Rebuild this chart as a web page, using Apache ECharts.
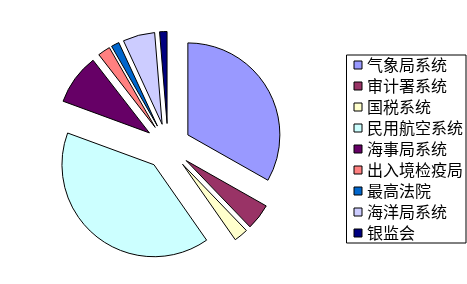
<!DOCTYPE html>
<html><head><meta charset="utf-8">
<style>html,body{margin:0;padding:0;background:#fff;}#c{width:467px;height:284px;}</style>
<script src="https://cdn.jsdelivr.net/npm/echarts@6/dist/echarts.min.js"></script>
</head><body><div id="c"></div>
<script>
var categories = ['气象局系统','审计署系统','国税系统','民用航空系统','海事局系统','出入境检疫局','最高法院','海洋局系统','银监会'];
var values = [33.2, 4.6, 2.5, 40.3, 8.9, 2.2, 1.4, 5.6, 1.3];
var colors = ['#9999FF','#993366','#FFFFCC','#CCFFFF','#660066','#FF8080','#0066CC','#CCCCFF','#000080'];

var chart = echarts.init(document.getElementById('c'), null, {renderer:'canvas'});
chart.setOption({
  animation: false,
  backgroundColor: '#fff',
  color: colors,
  legend: {
    orient: 'vertical',
    left: 346.5, top: 55,
    data: categories,
    icon: 'rect',
    itemWidth: 8, itemHeight: 8,
    itemGap: 5,
    padding: [2, 3, 2, 7],
    borderColor: '#000', borderWidth: 1,
    selectedMode: false,
    itemStyle: { borderColor: '#000', borderWidth: 1 },
    textStyle: { fontFamily: 'Noto Sans CJK SC', fontSize: 16, lineHeight: 16, color: '#000' }
  },
  series: [{
    type: 'pie',
    center: [168, 146.5],
    radius: 92,
    startAngle: 90,
    clockwise: true,
    selectedMode: 'multiple',
    selectedOffset: 23,
    label: { show: false },
    labelLine: { show: false },
    emphasis: { disabled: true },
    itemStyle: { borderColor: '#000', borderWidth: 1 },
    data: categories.map(function(n, i){ return { name: n, value: values[i], selected: true }; })
  }]
});
</script></body></html>
